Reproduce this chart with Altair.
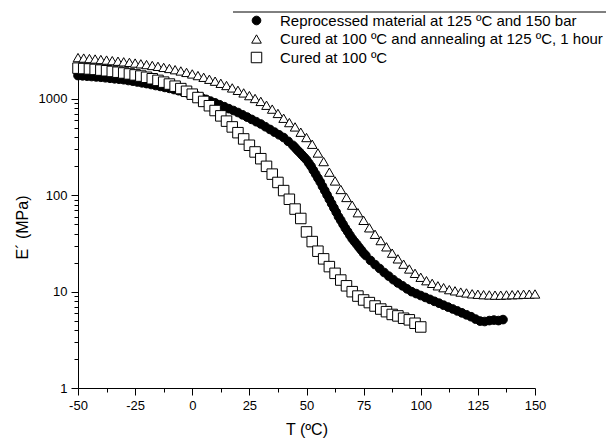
import altair as alt
import pandas as pd

# ---- data ----
series_names = [
    "Reprocessed material at 125 ºC and 150 bar",
    "Cured at 100 ºC and annealing at 125 ºC, 1 hour",
    "Cured at 100 ºC",
]

reproc_T = [-50, -48, -46, -44, -42, -40, -38, -36, -34, -32, -30, -28, -26, -24, -22, -20,
            -18, -16, -14, -12, -10, -8, -6, -4, -2, 0, 2, 4, 6, 8, 10, 12, 14, 16, 18, 20,
            22, 24, 26, 28, 30, 32, 34, 36, 38, 40, 42, 44, 45, 46, 47, 48, 49, 50, 51, 52, 53, 54, 55,
            56, 57, 58, 59, 60, 61, 62, 63, 64, 65, 66, 67, 68, 69, 70, 71, 72, 73, 74, 75, 76, 78, 80,
            82, 84, 86, 88, 90, 92, 94, 96, 98, 100,
            102, 104, 106, 108, 110, 112, 114, 116, 118, 120, 122, 124, 126, 128, 130, 132, 134, 136]
reproc_E = [1750, 1740, 1725, 1710, 1695, 1680, 1660, 1640, 1620, 1605, 1585, 1555, 1530, 1500, 1472, 1445,
            1413, 1380, 1350, 1318, 1288, 1253, 1219, 1186, 1153, 1122, 1076, 1033, 991, 951, 912, 871, 832, 794, 759, 724,
            685, 649, 614, 581, 550, 515, 483, 453, 425, 398, 363, 331, 313, 295, 279, 263, 248, 234, 216, 200, 182, 166, 151,
            138, 124, 112, 101, 91, 82, 74, 67, 60, 55, 50, 45.7, 42, 38.5, 35.5, 33.1, 31, 28.8, 27, 25.1, 23.7, 21.1, 19.1,
            17.4, 15.8, 14.5, 13.3, 12.3, 11.5, 10.7, 10.0, 9.55, 9.12,
            8.71, 8.32, 7.94, 7.59, 7.24, 6.92, 6.61, 6.31, 6.03, 5.75, 5.50, 5.19, 4.95, 4.90, 5.01, 5.07, 5.01, 5.13]

anneal_T = [-50, -47.5, -45, -42.5, -40, -37.5, -35, -32.5, -30, -27.5, -25, -22.5, -20, -17.5, -15, -12.5,
            -10, -7.5, -5, -2.5, 0, 2.5, 5, 7.5, 10, 12.5, 15, 17.5, 20, 22.5, 25, 27.5, 30, 32.5, 35, 37.5,
            40, 42.5, 45, 47.5, 50, 52.5, 55, 57.5, 60, 62.5, 65, 67.5, 70, 72.5, 75, 77.5, 80, 82.5, 85, 87.5,
            90, 92.5, 95, 97.5, 100, 102.5, 105, 107.5, 110, 112.5, 115, 117.5, 120, 122.5, 125, 127.5, 130, 132.5,
            135, 137.5, 140, 142.5, 145, 147.5, 150]
anneal_E = [2690, 2660, 2630, 2600, 2570, 2535, 2500, 2466, 2432, 2400, 2360, 2317, 2275, 2228, 2183, 2128,
            2075, 2014, 1954, 1888, 1820, 1750, 1680, 1603, 1531, 1455, 1380, 1303, 1230, 1156, 1084, 1012, 944, 861, 785, 708,
            631, 569, 513, 452, 398, 339, 275, 224, 174, 141, 115, 95, 79, 66, 55, 46, 39.4, 33.9, 29.2, 25.1,
            21.9, 19.3, 17.2, 15.5, 14.1, 13.0, 12.2, 11.5, 11.0, 10.5, 10.2, 9.9, 9.7, 9.5, 9.4, 9.3, 9.25, 9.2,
            9.2, 9.25, 9.3, 9.33, 9.4, 9.42, 9.46]

cured_T = [-50, -47.5, -45, -42.5, -40, -37.5, -35, -32.5, -30, -27.5, -25, -22.5, -20, -17.5, -15, -12.5,
           -10, -7.5, -5, -2.5, 0, 2.5, 5, 7.5, 10, 12.5, 15, 17.5, 20, 22.5, 25, 27.5, 30, 32.5, 35, 37.5,
           40, 42.5, 45, 47.5, 50, 52.5, 55, 57.5, 60, 62.5, 65, 67.5, 70, 72.5, 75, 77.5, 80, 82.5, 85, 87.5,
           90, 92.5, 95, 97.5, 100]
cured_E = [2090, 2070, 2050, 2028, 1995, 1963, 1932, 1897, 1862, 1820, 1778, 1730, 1680, 1622, 1560, 1496,
           1429, 1358, 1282, 1202, 1122, 1035, 944, 851, 759, 668, 589, 513, 447, 385, 331, 282, 240, 200, 166, 136,
           112, 91, 72, 57.5, 41.7, 33.1, 26.3, 21.9, 18.2, 15.5, 13.2, 11.5, 10.0, 9.0, 8.2, 7.7, 7.1, 6.6, 6.2, 5.8,
           5.6, 5.3, 5.1, 4.7, 4.3]

x_ticks = [-50, -37.5, -25, -12.5, 0, 12.5, 25, 37.5, 50, 62.5, 75, 87.5, 100, 112.5, 125, 137.5, 150]
y_ticks = [1, 2, 3, 4, 5, 6, 7, 8, 9, 10, 20, 30, 40, 50, 60, 70, 80, 90,
           100, 200, 300, 400, 500, 600, 700, 800, 900, 1000, 2000]

# draw order: circles, squares, triangles
df = pd.concat([
    pd.DataFrame({"T": reproc_T, "E": reproc_E, "series": series_names[0]}),
    pd.DataFrame({"T": cured_T, "E": cured_E, "series": series_names[2]}),
    pd.DataFrame({"T": anneal_T, "E": anneal_E, "series": series_names[1]}),
], ignore_index=True)

FONT = "Liberation Sans"

legend = alt.Legend(
    title=None, orient="none", legendX=171, legendY=-53,
    labelFont=FONT, labelFontSize=15, labelColor="black", labelLimit=450,
    labelOffset=16, rowPadding=2.5, padding=0,
    symbolStrokeColor="black", symbolStrokeWidth=1,
)

points = alt.Chart(df).mark_point(filled=False, strokeWidth=1, opacity=1, strokeOpacity=1, fillOpacity=1).encode(
    x=alt.X("T:Q",
            scale=alt.Scale(domain=[-50, 150], nice=False, zero=False),
            axis=alt.Axis(
                values=x_ticks, grid=False,
                labelExpr="datum.value % 25 == 0 ? '' + datum.value : ''",
                labelOverlap=False, labelFlush=False,
                tickSize={"condition": {"test": "datum.value % 25 == 0", "value": 7}, "value": 4},
                title="T (ºC)", titlePadding=9,
            )),
    y=alt.Y("E:Q",
            scale=alt.Scale(type="log", domain=[1, 2200], nice=False),
            axis=alt.Axis(
                values=y_ticks, grid=False,
                labelExpr="indexof([1, 10, 100, 1000], datum.value) >= 0 ? '' + datum.value : ''",
                labelOverlap=False, labelFlush=False,
                tickSize={"condition": {"test": "indexof([1, 10, 100, 1000], datum.value) >= 0", "value": 7}, "value": 4},
                title="E´ (MPa)", titlePadding=8,
            )),
    shape=alt.Shape("series:N",
                    scale=alt.Scale(domain=series_names, range=["circle", "triangle-up", "square"]),
                    legend=legend),
    fill=alt.Fill("series:N",
                  scale=alt.Scale(domain=series_names, range=["black", "white", "white"]),
                  legend=legend),
    stroke=alt.Stroke("series:N",
                      scale=alt.Scale(domain=series_names, range=["black", "black", "black"]),
                      legend=legend),
    size=alt.Size("series:N",
                  scale=alt.Scale(domain=series_names, range=[75, 110, 75]),
                  legend=legend),
)

top_line = alt.Chart(pd.DataFrame({"k": [0]})).mark_rule(color="black", strokeWidth=1).encode(
    x=alt.value(155), x2=alt.value(528), y=alt.value(-54)
)

chart = alt.layer(points, top_line).properties(
    width=457, height=322,
    background="white",
    autosize=alt.AutoSizeParams(type="none"),
    padding={"left": 78, "top": 66, "right": 71, "bottom": 53},
).configure_view(strokeWidth=0).configure_axis(
    grid=False, domainColor="black", domainWidth=1, tickColor="black", tickWidth=1,
    labelFont=FONT, labelFontSize=13, labelColor="black", labelPadding=4,
    titleFont=FONT, titleFontSize=16, titleFontWeight="normal", titleColor="black",
)

chart.save("out.html", embed_options={"renderer": "svg", "actions": False})
